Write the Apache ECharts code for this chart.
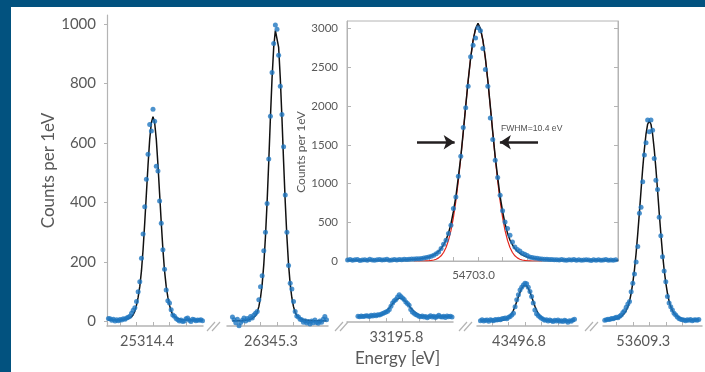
<!DOCTYPE html>
<html><head><meta charset="utf-8">
<script src="https://cdn.jsdelivr.net/npm/echarts@6/dist/echarts.min.js"></script>
<style>html,body{margin:0;padding:0;background:#fff}#c{width:705px;height:372px}</style>
</head><body><div id="c"></div>
<script>
// ---------------- DATA ----------------
const peakLabels = ['25314.4', '26345.3', '33195.8', '43496.8', '53609.3'];
const insetLabel = '54703.0';
const mainYTicks = [0, 200, 400, 600, 800, 1000];
const insetYTicks = [0, 500, 1000, 1500, 2000, 2500, 3000];
const binTicks = [-20, -10, 0, 10, 20];
const fwhmText = 'FWHM=10.4 eV';

// energy bins (eV offset from each line centre)
const mainBins = [-27,-26,-25,-24,-23,-22,-21,-20,-19,-18,-17,-16,-15,-14,-13,-12,-11,-10,-9,-8,-7,-6,-5,-4,-3,-2,-1,0,1,2,3,4,5,6,7,8,9,10,11,12,13,14,15,16,17,18,19,20,21,22,23,24,25,26,27,28,29,30];

const seg1Counts = [10,9,4,8,2,6,3,7,5,9, 8,12,14,18,28,38,46,67,100,134, 213,294,386,478,562,662,640,713,673,522, 506,405,330,241,176,106,70,62,40,22, 18,10,6,2,5,0,2,9,12,4, 0,8,6,3,5,4,6,3];
const seg1Fit = [5,5,5,5,5,5,5,5,5, 6,7,8,10,12,16,23,35,55,82,118,170,243,333,430,527,612,668, 688, 668,612,527,430,333,243,170,118,82,55,35,23,16,12,10,8,7,6, 5,5,5,5,5,5,5,5,5,5,5,5];

const seg2Counts = [15,6,-4,8,-14,-3,4,12,2,10, 6,17,12,22,28,34,73,117,154,238, 300,397,546,690,837,934,996,982,895,791, 696,587,425,300,188,129,109,67,34,19, 15,8,6,-2,3,-5,0,-8,2,-4, 5,-3,-6,2,-2,8,17,6];
const seg2Fit = [3,3,3,3,3,3,3,3, 4,5,6,8,10,14,20,31,50,80,125,192,285,401,537,684,817,921,978, 978,921,817,684,537,401,285,192,125,80,50,31,20,14,10,8,6,5,4, 3,3,3,3,3,3,3,3,3,3,3,3];

const seg3Counts = [5,3,6,4,5,7,6,4,8,6, 9,7,10,9,12,14,17,19,22,28, 39,50,58,62,70,78,72,67,62,53, 48,42,28,19,15,11,8,5,3,6, 2,4,0,3,7,2,5,1,4,8, 3,2,5,1,6,3,5,2];
const seg3Fit = [4,4,4,4,4,4,4,4,4,4, 4.5,5,5.8,7.1,9.2,12.1,15.9,20.7,26.5,33.1,40.3,47.4,54.2,60.1,64.1,66.7, 66.7,64.1,60.1,54.2,47.4,40.3,33.1,26.5,20.7,15.9,12.1,9.2,7.1,5.8,5,4.5, 4,4,4,4,4,4,4,4,4,4,4,4,4,4,4,4];

const seg4Counts = [3,6,2,4,5,1,6,4,3,7, 5,8,6,9,10,12,9,14,17,22, 28,50,73,90,106,115,123,129,127,115, 101,84,62,39,26,20,15,11,8,4, 6,2,5,3,0,4,2,5,1,3, 0,4,2,-2,3,1,5,8];
const seg4Fit = [3,3,3,3,3,3,3,3,3,3,3,3, 3.4,3.9,4.7,6.2,8.8,12.7,18.7,27,38,51.6,67,83.3,98.8,111.5,120, 123, 120,111.5,98.8,83.3,67,51.6,38,27,18.7,12.7,8.8,6.2,4.7,3.9,3.4, 3,3,3,3,3,3,3,3,3,3,3,3,3,3,3];

const seg5Counts = [4,6,8,7,10,9,12,14,13,18, 22,30,36,48,59,67,100,129,160,200, 252,364,384,470,560,601,677,638,677,643, 548,475,444,350,288,218,170,134,84,62, 50,39,28,22,15,10,8,6,5,3, 6,4,7,3,5,6,4,7];
const seg5Fit = [5,5,6,6,6,7,8,9,11,14,17,22,28,37,50,68,95,130,174,229,295,366,441,514,578,630,663, 674, 663,630,578,514,441,366,295,229,174,130,95,68,50,37,28,22,17,14,11,9,8,7,6,6,6,5,5,5,5,5];

const insetBins = [-53,-52,-51,-50,-49,-48,-47,-46,-45,-44,
 -43,-42,-41,-40,-39,-38,-37,-36,-35,-34,
 -33,-32,-31,-30,-29,-28,-27,-26,-25,-24,
 -23,-22,-21,-20,-19,-18,-17,-16,-15,-14,
 -13,-12,-11,-10,-9,-8,-7,-6,-5,-4,
 -3,-2,-1,0,1,2,3,4,5,6,
 7,8,9,10,11,12,13,14,15,16,
 17,18,19,20,21,22,23,24,25,26,
 27,28,29,30,31,32,33,34,35,36,
 37,38,39,40,41,42,43,44,45,46,
 47,48,49,50,51,52,53,54,55,56,57];
const insetCounts = [12,18,10,15,20,8,14,17,11,22,
 13,9,16,19,12,15,21,10,14,18,
 13,20,16,24,19,22,27,25,30,28,
 33,38,44,52,60,74,95,116,160,216,
 268,354,461,677,827,1095,1353,1724,1978,2258,
 2637,2788,2882,3012,2973,2745,2474,2258,1848,1569,
 1302,1078,849,650,504,419,332,246,181,150,
 129,100,87,70,52,45,40,36,30,27,
 24,22,18,20,15,17,12,19,14,10,
 16,13,18,11,15,9,14,17,12,8,
 15,11,16,10,13,18,9,14,11,16,12];

const insetFitBins = [-53,-45,-40,-35,-30,-28,-26,
 -24,-23,-22,-21,-20,-19,-18,-17,-16,-15,-14,-13,-12,-11,-10,-9,-8,-7,-6,-5,-4,-3,-2,-1,0,
 1,2,3,4,5,6,7,8,9,10,11,12,13,14,15,16,17,18,19,20,21,22,23,24,
 26,28,30,35,40,45,50,57];
const insetFitVoigt = [10,11,12,14,17,20,23,
 29,33,38,44,52,64,80,100,125,160,210,270,360,480,640,830,1080,1345,1665,2000,2330,2620,2850,3000,3070,
 3000,2850,2620,2330,2000,1665,1345,1080,830,640,480,360,270,210,160,125,100,80,64,52,44,38,33,29,
 23,20,17,14,12,11,10,10];
const insetFitGauss = [null,null,null,null,null,null,0,
 0,0,0,2,3,7,13,23,40,67,110,174,266,392,560,773,1031,1329,1657,1997,2326,2618,2850,2999,3050,
 2999,2850,2618,2326,1997,1657,1329,1031,773,560,392,266,174,110,67,40,23,13,7,3,2,0,0,0,
 0,null,null,null,null,null,null,null];

// FWHM arrows (data coordinates in the inset)
const fwhmLevel = 1534;
const arrowLeft = [-24.8, -9.5];
const arrowRight = [24.4, 8.9];

// ---------------- LAYOUT ----------------
const PX_MAIN = 1.65, PX_INSET = 2.46;
const MAIN_TOP = 15, MAIN_AXIS_Y = 326;
const segLayout = [
  {x0: 107, x1: 203, c: 153},
  {x0: 227, x1: 328, c: 277},
  {x0: 347, x1: 453, c: 402.5},
  {x0: 477, x1: 578, c: 525},
  {x0: 603, x1: 702, c: 649.3}
];
const INSET = {x0: 347, x1: 618, c: 478, top: 21, bottom: 261};
const breaks = [207, 335, 459, 585];

const segCounts = [seg1Counts, seg2Counts, seg3Counts, seg4Counts, seg5Counts];
const segFits = [seg1Fit, seg2Fit, seg3Fit, seg4Fit, seg5Fit];

const FONT = 'Lato';
const TXT = '#595959';
const AX = '#b4b4b4';
const DOT = '#1f77c0';
const plain = v => String(v);

const pairs = (xs, ys) => xs.map((x, i) => [x, ys[i] == null ? '-' : ys[i]]);

const grid = [], xAxis = [], yAxis = [], series = [];
segLayout.forEach((s, i) => {
  grid.push({left: s.x0, top: MAIN_TOP, width: s.x1 - s.x0, height: MAIN_AXIS_Y - MAIN_TOP});
  const xa = {
    gridIndex: i, type: 'value',
    min: (s.x0 - s.c) / PX_MAIN, max: (s.x1 - s.c) / PX_MAIN,
    axisLine: {show: true, onZero: false, lineStyle: {color: AX, width: 1.5}},
    axisTick: {show: true, inside: true, length: 4, customValues: binTicks, lineStyle: {color: AX, width: 1}},
    axisLabel: {show: true, customValues: [0], formatter: () => peakLabels[i], margin: 8,
      color: TXT, fontSize: 14.5, fontFamily: FONT, padding: [0, 12, 0, 0]},
    splitLine: {show: false}
  };
  if (i === 2) {
    xa.name = 'Energy [eV]';
    xa.nameLocation = 'middle';
    xa.nameGap = 26;
    xa.nameTextStyle = {fontSize: 17, color: TXT, fontFamily: FONT, padding: [0, 5, 0, 0]};
  }
  xAxis.push(xa);
  const ya = {
    gridIndex: i, type: 'value', min: -15, max: 1030, show: i === 0,
    axisLine: {show: true, onZero: false, lineStyle: {color: AX, width: 1.2}},
    axisTick: {show: true, length: 3, customValues: mainYTicks, lineStyle: {color: AX}},
    axisLabel: {customValues: mainYTicks, formatter: plain, margin: 11, color: TXT, fontSize: 15, fontFamily: FONT},
    splitLine: {show: false}
  };
  if (i === 0) {
    ya.name = 'Counts per 1eV';
    ya.nameLocation = 'middle';
    ya.nameGap = 45;
    ya.nameTextStyle = {fontSize: 17, color: TXT, fontFamily: FONT};
  }
  yAxis.push(ya);
  series.push({
    type: 'line', xAxisIndex: i, yAxisIndex: i, data: pairs(mainBins, segFits[i]),
    showSymbol: false, lineStyle: {color: '#111', width: 1.5}, z: 3, silent: true
  });
  series.push({
    type: 'scatter', xAxisIndex: i, yAxisIndex: i, data: pairs(mainBins, segCounts[i]),
    symbolSize: 5, itemStyle: {color: DOT}, z: 4, silent: true
  });
});

// inset
grid.push({left: INSET.x0, top: INSET.top, width: INSET.x1 - INSET.x0, height: INSET.bottom - INSET.top,
  show: true, backgroundColor: '#fff', borderColor: AX, borderWidth: 1});
xAxis.push({
  gridIndex: 5, type: 'value',
  min: (INSET.x0 - INSET.c) / PX_INSET, max: (INSET.x1 - INSET.c) / PX_INSET,
  axisLine: {show: true, onZero: false, lineStyle: {color: AX, width: 1}},
  axisTick: {show: true, inside: true, length: 4, customValues: binTicks, lineStyle: {color: AX}},
  axisLabel: {customValues: [0], formatter: () => insetLabel, margin: 8, color: TXT, fontSize: 11.5,
    fontFamily: FONT, padding: [0, 9, 0, 0]},
  splitLine: {show: false}
});
yAxis.push({
  gridIndex: 5, type: 'value', min: 0, max: 3100, position: 'left',
  axisLine: {show: true, onZero: false, lineStyle: {color: AX, width: 1}},
  axisTick: {show: true, inside: true, length: 4, customValues: insetYTicks, lineStyle: {color: AX}},
  axisLabel: {customValues: insetYTicks, formatter: plain, margin: 9, color: TXT, fontSize: 11.5, fontFamily: FONT},
  splitLine: {show: false},
  name: 'Counts per 1eV', nameLocation: 'middle', nameGap: 36,
  nameTextStyle: {fontSize: 12, color: TXT, fontFamily: FONT, padding: [0, 22, 0, 0]}
});
yAxis.push({
  gridIndex: 5, type: 'value', min: 0, max: 3100, position: 'right',
  axisLine: {show: true, onZero: false, lineStyle: {color: AX, width: 1}},
  axisTick: {show: true, inside: true, length: 4, customValues: insetYTicks, lineStyle: {color: AX}},
  axisLabel: {show: false}, splitLine: {show: false}
});
series.push({
  type: 'line', xAxisIndex: 5, yAxisIndex: 5, data: pairs(insetFitBins, insetFitGauss),
  showSymbol: false, lineStyle: {color: '#e3261d', width: 1.2}, z: 2, silent: true
});
series.push({
  type: 'line', xAxisIndex: 5, yAxisIndex: 5, data: pairs(insetFitBins, insetFitVoigt),
  showSymbol: false, lineStyle: {color: '#111', width: 1.5}, z: 3, silent: true,
  markLine: {
    silent: true, symbol: ['none', 'arrow'], symbolSize: 11, animation: false,
    lineStyle: {color: '#231f20', width: 2.5, type: 'solid'}, label: {show: false},
    emphasis: {disabled: true},
    data: [
      [{coord: [arrowLeft[0], fwhmLevel]}, {coord: [arrowLeft[1], fwhmLevel]}],
      [{coord: [arrowRight[0], fwhmLevel]}, {coord: [arrowRight[1], fwhmLevel]}]
    ]
  }
});
series.push({
  type: 'scatter', xAxisIndex: 5, yAxisIndex: 5, data: pairs(insetBins, insetCounts),
  symbolSize: 5, itemStyle: {color: DOT}, z: 4, silent: true
});

const graphic = [
  {type: 'rect', shape: {x: 0, y: 0, width: 705, height: 7}, style: {fill: '#02527f'}, z: 100},
  {type: 'rect', shape: {x: 0, y: 0, width: 11, height: 372}, style: {fill: '#02527f'}, z: 100},
  {type: 'text', x: 501, y: 129, z: 50,
    style: {text: fwhmText, fill: '#505050', font: '8.6px "Liberation Sans"', verticalAlign: 'middle', align: 'left'}}
];
breaks.forEach(b => {
  graphic.push({type: 'line', shape: {x1: b, y1: 331, x2: b + 8, y2: 322}, style: {stroke: AX, lineWidth: 1.2}, z: 50});
  graphic.push({type: 'line', shape: {x1: b + 5, y1: 331, x2: b + 13, y2: 322}, style: {stroke: AX, lineWidth: 1.2}, z: 50});
});

const chart = echarts.init(document.getElementById('c'), null, {renderer: 'canvas'});
chart.setOption({
  animation: false,
  backgroundColor: '#fff',
  grid, xAxis, yAxis, series, graphic
});
</script>
</body></html>
